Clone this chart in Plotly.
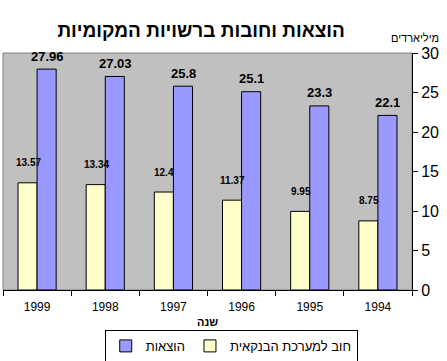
import plotly.graph_objects as go

years = ["1999", "1998", "1997", "1996", "1995", "1994"]
debt = [13.57, 13.34, 12.4, 11.37, 9.95, 8.75]
expenses = [27.96, 27.03, 25.8, 25.1, 23.3, 22.1]
debt_name = "חוב למערכת הבנקאית"
exp_name = "הוצאות"
title_text = "הוצאות וחובות ברשויות המקומיות"
y_label = "מיליארדים"
x_label = "שנה"

FONT = "Arial, 'Liberation Sans', 'DejaVu Sans', sans-serif"

fig = go.Figure()
fig.add_trace(go.Bar(x=years, y=debt, name=debt_name,
                     marker=dict(color="#FFFFCC", line=dict(color="black", width=1))))
fig.add_trace(go.Bar(x=years, y=expenses, name=exp_name,
                     marker=dict(color="#9999FF", line=dict(color="black", width=1))))

annotations = []
for i, (d, e) in enumerate(zip(debt, expenses)):
    annotations.append(dict(x=i, y=d, xref="x", yref="y", text=f"<b>{d:g}</b>",
                            showarrow=False, xshift=-9, yshift=20,
                            font=dict(family=FONT, size=10, color="black")))
    annotations.append(dict(x=i, y=e, xref="x", yref="y", text=f"<b>{e:g}</b>",
                            showarrow=False, xshift=10, yshift=13,
                            font=dict(family=FONT, size=13, color="black")))

annotations.append(dict(x=1.0, y=1.0, xref="paper", yref="paper", text=y_label,
                        showarrow=False, xanchor="center", yanchor="bottom",
                        xshift=3, yshift=7,
                        font=dict(family=FONT, size=11, color="black")))
annotations.append(dict(x=0.5, y=-0.135, xref="paper", yref="paper",
                        text=f"<b>{x_label}</b>", showarrow=False,
                        xanchor="center", yanchor="middle",
                        font=dict(family=FONT, size=11, color="black")))

fig.update_layout(
    width=447, height=361,
    margin=dict(l=3, r=35, t=53, b=71),
    paper_bgcolor="white",
    plot_bgcolor="#C0C0C0",
    barmode="group",
    bargap=0.44,
    bargroupgap=0,
    font=dict(family=FONT, size=12, color="black"),
    title=dict(text=f"<b>{title_text}</b>", x=0.45, xanchor="center",
               y=0.915, yanchor="middle",
               font=dict(family=FONT, size=19, color="black")),
    showlegend=True,
    legend=dict(orientation="h", x=0.558, xanchor="center",
                yref="container", y=0.086, yanchor="top",
                traceorder="reversed", itemwidth=30,
                bordercolor="black", borderwidth=1, bgcolor="white",
                font=dict(family=FONT, size=13, color="black"),
                itemclick=False),
    annotations=annotations,
    xaxis=dict(type="category", tickson="boundaries", ticks="outside", ticklen=5,
               tickcolor="black", showline=True, linecolor="black", linewidth=1,
               range=[-0.5, len(years) - 0.5], automargin=False,
               ticklabelstandoff=6,
               tickfont=dict(family=FONT, size=12, color="black"),
               showgrid=False, zeroline=False),
    yaxis=dict(side="right", range=[0, 30], dtick=5, ticks="outside", ticklen=5,
               tickcolor="black", showline=True, linecolor="black", linewidth=1,
               automargin=False,
               tickfont=dict(family=FONT, size=16, color="black"),
               showgrid=False, zeroline=False),
    shapes=[dict(type="rect", xref="paper", yref="paper", x0=0, x1=1, y0=0, y1=1,
                 line=dict(color="#808080", width=1), layer="below")],
)

fig.write_html("out.html", config={"displayModeBar": False},
               post_script="document.body.style.margin='0';document.body.style.padding='0';")
